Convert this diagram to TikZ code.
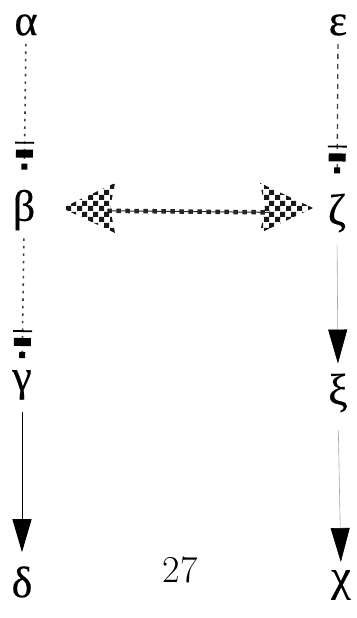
\documentclass[tikz,border=0pt]{standalone}
\usepackage{fontspec}
\newfontfamily\greekfont[FakeBold=0.4]{Liberation Serif}
\usetikzlibrary{arrows.meta,patterns,calc}

% coarse checkerboard for the double arrow heads
\pgfdeclarepatternformonly{bigchecker}{\pgfpointorigin}{\pgfqpoint{11pt}{11pt}}{\pgfqpoint{11pt}{11pt}}{%
  \pgfpathrectangle{\pgfpointorigin}{\pgfqpoint{5.5pt}{5.5pt}}%
  \pgfpathrectangle{\pgfqpoint{5.5pt}{5.5pt}}{\pgfqpoint{5.5pt}{5.5pt}}%
  \pgfusepath{fill}}

\begin{document}
\begin{tikzpicture}[
    x=1pt, y=-1pt,
    letter/.style={inner sep=0pt, font=\greekfont\fontsize{44}{44}\selectfont},
    teehead/.style={-{Bar[width=19pt,line width=1.8pt,sep=6pt,color=black]
        Rectangle[length=8pt,width=17pt,sep=6pt,color=black]
        Rectangle[length=6pt,width=6pt,color=black]}},
    dotline/.style={teehead, line width=1.6pt, black!75, dash pattern=on 2.5pt off 5pt},
    dashline/.style={teehead, line width=1.3pt, black!75, dash pattern=on 5pt off 5pt},
    solidarrow/.style={line width=1pt, -{Triangle[width=19pt,length=33pt]}},
    thinarrow/.style={line width=0.6pt, black!35, -{Triangle[width=19pt,length=34pt,color=black]}},
    checker/.style={pattern=bigchecker, pattern color=black!90},
    chain/.style={line width=4.5pt, black!85, dash pattern=on 4.5pt off 4.5pt}
]
\useasboundingbox (0,0) rectangle (356,618);

\node[letter] (alpha)   at (26,25)  {α};
\node[letter] (beta)    at (24,210) {β};
\node[letter] (gamma)   at (22,385) {γ};
\node[letter] (delta)   at (22,582) {δ};
\node[letter] (epsilon) at (338,25)  {ε};
\node[letter] (zeta)    at (337,213) {ζ};
\node[letter] (xi)      at (338,393) {ξ};
\node[letter] (chi)     at (341,585) {χ};
\node (page) at (180,570) {\fontsize{38}{38}\selectfont 27};

% left column
\draw[dotline, shorten <=8pt, shorten >=20pt] (alpha.south) -- (beta.north);
\draw[dotline, shorten <=8pt, shorten >=12pt] (beta.south) -- (gamma.north);
\draw[solidarrow, shorten <=12pt, shorten >=14pt] (gamma.south) -- (delta.north);

% right column
\draw[dashline, shorten <=8pt, shorten >=20pt] (epsilon.south) -- (zeta.north);
\draw[thinarrow, shorten <=12pt, shorten >=10pt] (zeta.south) -- (xi.north);
\draw[thinarrow, shorten <=18pt, shorten >=8pt] (xi.south) -- (chi.north);

% checkered double arrow
\draw[line width=1pt, black!85, shorten <=72pt, shorten >=58pt] (beta) -- (zeta);
\draw[chain, shorten <=72pt, shorten >=58pt] (beta) -- (zeta);
\fill[checker] ($(beta)+(38,-2)$) -- ++(53,-25) -- ++(-5,25) -- ++(5,25) -- cycle;
\fill[checker] ($(zeta)+(-24,-5)$) -- ++(-53,-25) -- ++(5,25) -- ++(-5,25) -- cycle;
\end{tikzpicture}
\end{document}
